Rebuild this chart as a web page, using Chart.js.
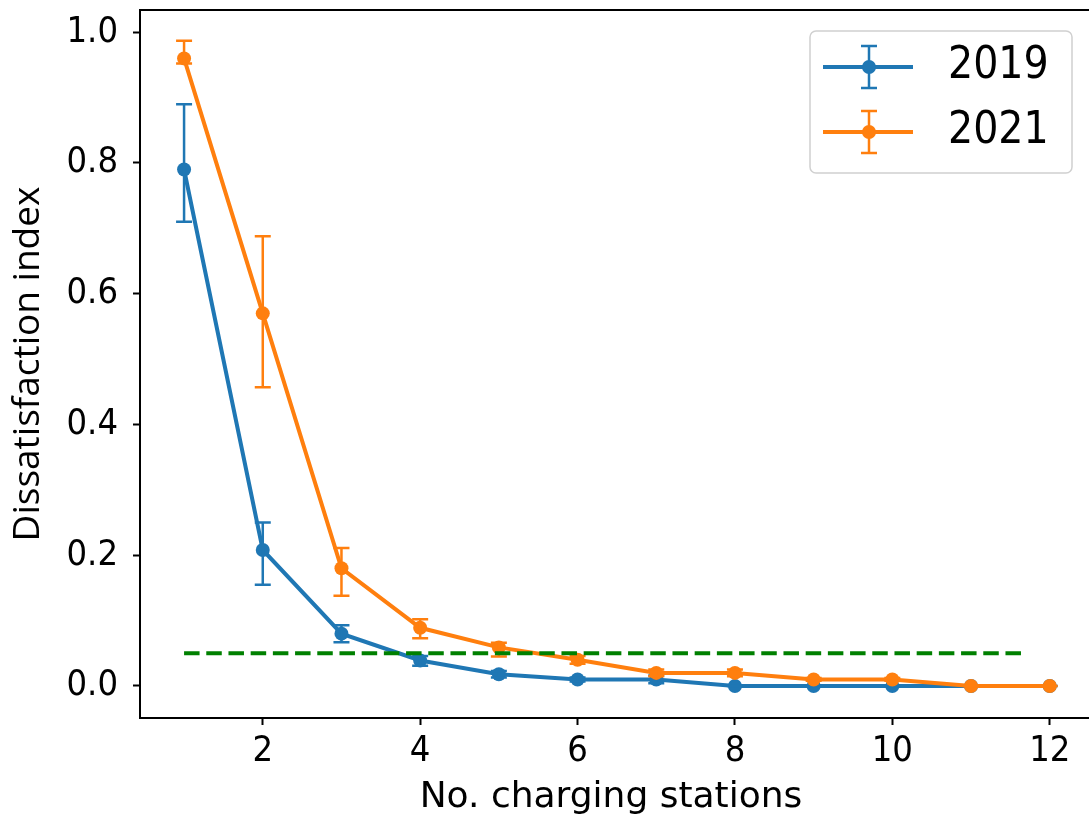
<!DOCTYPE html>
<html>
<head>
<meta charset="utf-8">
<script src="https://cdn.jsdelivr.net/npm/chart.js@4.4.1/dist/chart.umd.min.js"></script>
<style>
  body { margin: 0; background: #fff; }
  #wrap { width: 1089px; height: 823px; position: relative; }
</style>
</head>
<body>
<div id="wrap"><canvas id="chart"></canvas></div>
<script>
// data
var stations = [1, 2, 3, 4, 5, 6, 7, 8, 9, 10, 11, 12];
var dis2019 = [0.79, 0.208, 0.08, 0.039, 0.018, 0.01, 0.01, 0, 0, 0, 0, 0];
var errLow2019 = [0.08, 0.053, 0.013, 0.008, 0.005, 0.003, 0.006, 0, 0, 0, 0, 0];
var errHigh2019 = [0.10, 0.042, 0.013, 0.007, 0.005, 0.003, 0.006, 0, 0, 0, 0, 0];
var dis2021 = [0.96, 0.57, 0.18, 0.089, 0.059, 0.04, 0.02, 0.02, 0.01, 0.01, 0, 0];
var errLow2021 = [0.008, 0.113, 0.042, 0.016, 0.014, 0.006, 0.005, 0.005, 0.002, 0.002, 0, 0];
var errHigh2021 = [0.027, 0.118, 0.031, 0.013, 0.007, 0.006, 0.005, 0.005, 0.002, 0.002, 0, 0];
var thresholdX = [1, 11.68];
var thresholdY = [0.05, 0.05];
var xTicks = [2, 4, 6, 8, 10, 12];
var yTicks = [0, 0.2, 0.4, 0.6, 0.8, 1.0];

var blue = '#1f77b4';
var orange = '#ff7f0e';

function toPoints(xs, ys) {
	return xs.map((x, i) => ({x: x, y: ys[i]}));
}

// error bars drawn right after their own line
var errorBars = {
	id: 'errorBars',
	afterDatasetDraw(chart, args) {
		var ds = chart.data.datasets[args.index];
		if (!ds.errLow) return;
		var xs = chart.scales.x, ys = chart.scales.y, ctx = chart.ctx;
		ctx.save();
		ctx.strokeStyle = ds.borderColor;
		ctx.lineWidth = 2.5;
		ds.data.forEach((p, i) => {
			var x = xs.getPixelForValue(p.x);
			var top = ys.getPixelForValue(p.y + ds.errHigh[i]);
			var bot = ys.getPixelForValue(p.y - ds.errLow[i]);
			ctx.beginPath();
			ctx.moveTo(x, top); ctx.lineTo(x, bot);
			ctx.moveTo(x - 8, top); ctx.lineTo(x + 8, top);
			ctx.moveTo(x - 8, bot); ctx.lineTo(x + 8, bot);
			ctx.stroke();
		});
		ctx.restore();
	}
};

// top/bottom spines run to the picture edge + legend box like matplotlib
var frameAndLegend = {
	id: 'frameAndLegend',
	afterDraw(chart) {
		var ctx = chart.ctx, a = chart.chartArea;
		ctx.save();
		ctx.strokeStyle = '#000';
		ctx.lineWidth = 2;
		ctx.beginPath();
		ctx.moveTo(a.left - 1, a.top);
		ctx.lineTo(chart.width, a.top);
		ctx.moveTo(a.right - 2, a.bottom);
		ctx.lineTo(chart.width, a.bottom);
		ctx.stroke();

		// legend
		ctx.beginPath();
		ctx.roundRect(810, 31, 262, 142, 6);
		ctx.fillStyle = 'rgba(255,255,255,0.8)';
		ctx.fill();
		ctx.strokeStyle = '#d0d0d0';
		ctx.lineWidth = 1.5;
		ctx.stroke();

		var items = [
			{label: chart.data.datasets[0].label, color: blue, y: 67},
			{label: chart.data.datasets[1].label, color: orange, y: 132}
		];
		items.forEach(it => {
			ctx.strokeStyle = it.color;
			ctx.lineWidth = 4;
			ctx.beginPath();
			ctx.moveTo(823, it.y); ctx.lineTo(913, it.y);
			ctx.stroke();
			ctx.lineWidth = 2.5;
			ctx.beginPath();
			ctx.moveTo(869, it.y - 21); ctx.lineTo(869, it.y + 21);
			ctx.moveTo(861, it.y - 21); ctx.lineTo(877, it.y - 21);
			ctx.moveTo(861, it.y + 21); ctx.lineTo(877, it.y + 21);
			ctx.stroke();
			ctx.fillStyle = it.color;
			ctx.beginPath();
			ctx.arc(869, it.y, 7, 0, Math.PI * 2);
			ctx.fill();
			ctx.fillStyle = '#000';
			ctx.font = '44px "DejaVu Sans Condensed"';
			ctx.textBaseline = 'middle';
			ctx.textAlign = 'left';
			ctx.fillText(it.label, 948, it.y);
		});
		ctx.restore();
	}
};

Chart.defaults.font.family = 'DejaVu Sans';
Chart.defaults.color = '#000';

var ctx = document.getElementById('chart').getContext('2d');
var chart = new Chart(ctx, {
	type: 'line',
	data: {
		datasets: [{
			label: '2019',
			data: toPoints(stations, dis2019),
			errLow: errLow2019,
			errHigh: errHigh2019,
			borderColor: blue,
			backgroundColor: blue,
			borderWidth: 4,
			pointRadius: 7,
			pointBorderWidth: 0,
			pointBackgroundColor: blue,
			order: 2
		}, {
			label: '2021',
			data: toPoints(stations, dis2021),
			errLow: errLow2021,
			errHigh: errHigh2021,
			borderColor: orange,
			backgroundColor: orange,
			borderWidth: 4,
			pointRadius: 7,
			pointBorderWidth: 0,
			pointBackgroundColor: orange,
			order: 1
		}, {
			label: 'threshold',
			data: toPoints(thresholdX, thresholdY),
			borderColor: '#008000',
			borderWidth: 4,
			borderDash: [15.5, 6.7],
			pointRadius: 0,
			order: 0
		}]
	},
	options: {
		responsive: true,
		maintainAspectRatio: false,
		animation: false,
		layout: {padding: {left: 0, right: 0, top: 10, bottom: 0}},
		plugins: {
			legend: {display: false},
			tooltip: {enabled: false}
		},
		scales: {
			x: {
				type: 'linear',
				min: 0.44,
				max: 12.41,
				afterFit: s => {
					s.height = 105;
					s.paddingLeft = 0; s.paddingRight = 0;
				},
				afterBuildTicks: s => { s.ticks = xTicks.map(v => ({value: v})); },
				ticks: {
					font: {family: 'DejaVu Sans Condensed', size: 36},
					color: '#000',
					padding: 5,
					maxRotation: 0
				},
				grid: {drawOnChartArea: false, tickLength: 7, tickColor: '#000', tickWidth: 2},
				border: {color: '#000', width: 2},
				title: {
					display: true,
					text: 'No. charging stations',
					font: {family: 'DejaVu Sans', size: 36},
					color: '#000',
					padding: {top: 0, bottom: 4}
				}
			},
			y: {
				min: -0.049,
				max: 1.034,
				afterFit: s => {
					s.width = 140;
					s.paddingTop = 0; s.paddingBottom = 0;
				},
				afterBuildTicks: s => { s.ticks = yTicks.map(v => ({value: v})); },
				ticks: {
					callback: v => v.toFixed(1),
					font: {family: 'DejaVu Sans Condensed', size: 36},
					color: '#000',
					padding: 15
				},
				grid: {drawOnChartArea: false, tickLength: 7, tickColor: '#000', tickWidth: 2},
				border: {color: '#000', width: 2},
				title: {
					display: true,
					text: 'Dissatisfaction index',
					font: {family: 'Open Sans', size: 37},
					color: '#000',
					padding: {top: 6, bottom: 0}
				}
			}
		}
	},
	plugins: [errorBars, frameAndLegend]
});
</script>
</body>
</html>
